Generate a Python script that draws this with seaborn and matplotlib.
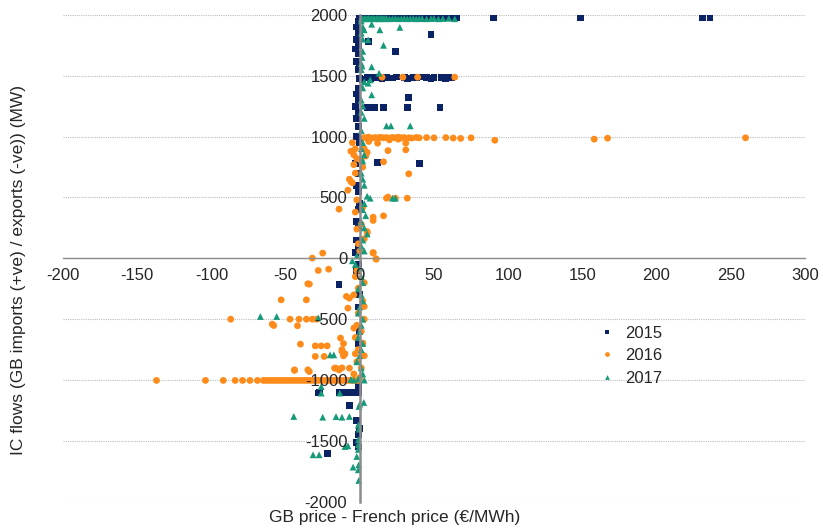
# import libraries
import pandas as pd
import seaborn as sns
import matplotlib.pyplot as plt

# data: (price gap EUR/MWh, IC flow MW)
years = ["2015", "2016", "2017"]
colours = ["#0B2365", "#FF8C1A", "#179A7A"]

pts_2015 = [
    # top row near 2000 MW
    (0, 1985), (2, 1975), (4, 1980), (6, 1970), (8, 1978), (10, 1982), (12, 1975), (14, 1980),
    (16, 1972), (18, 1985), (20, 1978), (22, 1975), (24, 1980), (26, 1983), (28, 1975), (30, 1978),
    (33, 1980), (35, 1975), (38, 1985), (40, 1978), (42, 1972), (45, 1980), (48, 1975), (50, 1982),
    (52, 1978), (55, 1975), (58, 1980), (60, 1978), (63, 1975), (65, 1980), (90, 1978), (149, 1978),
    (231, 1978), (236, 1978),
    # column at zero gap
    (-1, 1950), (-2, 1900), (-1, 1850), (-2, 1800), (-1, 1750), (-3, 1720), (-1, 1680), (-2, 1620),
    (0, 1580), (-1, 1550), (-1, 1400), (-2, 1350), (-1, 1300), (-3, 1250), (-1, 1200), (-2, 1150),
    (-1, 1080), (-2, 1000), (0, 950), (-1, 700), (-2, 600), (-1, 550), (0, 450), (-1, 400),
    (-2, 300), (-1, 250), (-2, 150), (-1, 100), (-3, 50), (-1, -50), (-2, -100), (0, -300),
    (-1, -400), (0, -600), (-1, -700), (-1, -1050),
    # scattered
    (6, 1781), (48, 1841), (24, 1700), (33, 1324), (10, 1239), (16, 1239), (32, 1239), (54, 1239),
    (5, 1239), (12, 790), (40, 776), (-3, 782), (-14, -218),
    # 1500 MW row
    (0, 1480), (2, 1470), (5, 1488), (7, 1480), (9, 1490), (12, 1485), (15, 1478), (18, 1488),
    (22, 1482), (25, 1490), (30, 1485), (32, 1478), (36, 1488), (38, 1482), (40, 1490), (45, 1485),
    (48, 1480), (50, 1488), (55, 1485), (58, 1478), (60, 1488), (62, 1482),
    # exports
    (-28, -1107), (-27, -1105), (-14, -1105), (-12, -1100), (-10, -1105), (-8, -1100), (-6, -1105),
    (-4, -1100), (-2, -1105), (-1, -1100), (-7, -1209), (-2, -1335), (0, -1400), (-1, -1450),
    (-2, -1513), (-1, -1550), (-22, -1606),
]

pts_2016 = [
    # 1000 MW row
    (3, 992), (5, 990), (6, 995), (8, 988), (10, 992), (12, 990), (14, 994), (16, 990), (18, 992),
    (20, 988), (22, 993), (24, 990), (26, 995), (28, 990), (30, 992), (33, 990), (35, 988), (38, 993),
    (40, 990), (45, 992), (50, 990), (58, 992), (63, 988), (68, 985), (75, 990), (91, 970),
    (158, 979), (167, 987), (260, 990),
    # scattered imports
    (12, 946), (19, 885), (31, 946), (31, 891), (16, 793), (33, 694), (20, 973), (26, 979),
    (18, 494), (24, 494), (32, 494), (19, 503), (-14, 404), (16, 349), (9, 311), (5, 207),
    (9, 48), (11, -4), (9, 338), (5, 220), (11, -7), (9, 43),
    (-5, 950), (-3, 900), (-6, 880), (-4, 850), (-2, 820), (3, 900), (5, 870), (4, 840), (6, 960),
    (-7, 650), (-5, 620), (-3, 700), (2, 750), (1, 800), (-4, 770), (-8, 560), (-6, 630), (-2, 480),
    (2, 420), (-3, 380), (1, 280), (-2, 240), (3, 160), (-1, 120), (0, 60),
    (15, 1488), (29, 1488), (39, 1488), (64, 1488),
    # negative gaps
    (-32, 2), (-25, 43), (-28, -100), (-21, -89), (-34, -212), (-35, -209), (-53, -341), (-36, -341),
    (-87, -500), (-59, -541), (-58, -552), (-47, -500), (-41, -500), (-36, -500), (-32, -500),
    (-29, -500), (-42, -554), (-40, -705), (-30, -719), (-26, -719), (-22, -719), (-30, -806),
    (-24, -806), (-44, -916), (-35, -916), (-16, -902), (-12, -900), (-12, -750), (-11, -700),
    (-44, -921), (-34, -930), (-17, -902), (-14, -916),
    (-1, -245), (-9, -313), (-7, -327), (-8, -409), (-4, -573), (-13, -655), (-12, -765),
    (-10, -784), (-11, -801), (-3, -784), (-7, -902), (3, -396), (2, -697), (-2, -100), (-3, -150),
    (3, -200), (-4, -300), (2, -350), (-1, -450), (3, -500), (-2, -550), (1, -600), (-3, -650),
    (2, -700), (-1, -750), (3, -800), (-2, -850), (1, -900), (-4, -950), (0, -980),
    # -1000 MW row
    (-137, -1003), (-104, -1003), (-92, -1003), (-84, -1003), (-79, -1003), (-74, -1003),
    (-69, -1003), (-65, -1003), (-63, -1003), (-61, -1003), (-59, -1003), (-57, -1003),
    (-55, -1003), (-53, -1003), (-51, -1003), (-49, -1003), (-47, -1003), (-45, -1003),
    (-43, -1003), (-41, -1003), (-39, -1003), (-37, -1003), (-35, -1003), (-33, -1003),
    (-31, -1003), (-29, -1003), (-27, -1003), (-25, -1003), (-23, -1003), (-21, -1003),
    (-19, -1003), (-17, -1003), (-15, -1003), (-13, -1003), (-11, -1003), (-9, -1003),
    (-7, -1003), (-5, -1003), (-3, -1003), (-1, -1003),
]

pts_2017 = [
    # top row near 2000 MW
    (1, 1970), (2, 1968), (3, 1972), (4, 1968), (5, 1970), (6, 1973), (7, 1968), (8, 1970),
    (9, 1972), (10, 1968), (11, 1970), (12, 1973), (13, 1968), (14, 1970), (15, 1972), (16, 1968),
    (17, 1970), (18, 1972), (20, 1968), (22, 1970), (24, 1972), (26, 1968), (28, 1970), (30, 1972),
    (32, 1968), (34, 1970), (36, 1972), (38, 1968), (40, 1970), (42, 1972), (45, 1968), (48, 1970),
    (50, 1972), (53, 1968), (56, 1970), (60, 1972), (64, 1968),
    # scattered near the top
    (8, 1923), (13.5, 1877), (27, 1897), (16, 1750), (8, 1573), (3, 1877), (2, 1800), (5.6, 1795),
    (1.5, 1650), (1.5, 1580), (13, 1521), (7, 1466), (5.6, 1439), (8, 1343), (18, 1088),
    (21, 1088), (34, 1088),
    # column at zero gap
    (1, 1950), (2, 1900), (1, 1850), (2, 1700), (1, 1600), (1, 1550), (3, 1450), (2, 1400),
    (1, 1300), (2, 1250), (1, 1200), (3, 1150), (1, 1050), (2, 950), (1, 900), (3, 850), (2, 800),
    (1, 700), (2, 650), (3, 600), (22, 494), (24, 494), (7, 494), (5, 510), (3, 450), (2, 400),
    (4, 350), (1, 300), (3, 250), (5, 200), (2, 150), (1, 100), (3, 60), (-2, 20), (-5, -20),
    (-3, -50), (0, -80),
    (1, -150), (2, -200), (-1, -250), (1, -300), (2, -350), (0, -400), (-1, -450), (2, -500),
    (1, -550), (0, -600), (-1, -650), (2, -700), (1, -750), (0, -800), (-2, -850), (1, -900),
    (2, -950), (-1, -990), (3, -1000), (-4, -1000), (-6, -995),
    # exports
    (-67, -478), (-56, -478), (-28, -489), (-20, -793), (-17.5, -793), (-26, -1053), (-26, -1107),
    (-13.5, -1107), (-44.5, -1299), (-25, -1305), (-16, -1300), (-12, -1305), (-7, -1299),
    (-0.5, -1217), (2.7, -1184), (0, -1198), (-1, -1368), (-0.5, -1403), (-10, -1546), (-8, -1540),
    (-31.5, -1614), (-27.4, -1614), (-1, -1490), (-1, -1530), (-1, -1570), (-2, -1628),
    (-0.7, -1696), (-4.5, -1715), (-1, -1737), (-0.7, -1825),
]

x_ticks = [-200, -150, -100, -50, 0, 50, 100, 150, 200, 250, 300]
y_ticks = [-2000, -1500, -1000, -500, 0, 500, 1000, 1500, 2000]

rows = []
for yr, pts in zip(years, [pts_2015, pts_2016, pts_2017]):
    for gap, flow in pts:
        rows.append({"year": yr, "gap": gap, "flow": flow})
df = pd.DataFrame(rows)

sns.set_style("white")
plt.rcParams['font.family'] = ['Liberation Sans', 'DejaVu Sans']
plt.rcParams['axes.unicode_minus'] = False

fig, ax = plt.subplots(figsize=(8.23, 5.31), dpi=100)
fig.subplots_adjust(left=0.0766, right=0.978, top=0.972, bottom=0.055)

# dotted gridlines under the points, tick labels stay on top
for yv in y_ticks:
    ax.axhline(yv, linestyle=(0, (1, 1)), color="#BDBDBD", linewidth=0.8, zorder=0.5)

sns.scatterplot(data=df, x="gap", y="flow", hue="year", style="year",
                hue_order=years, style_order=years,
                markers={"2015": "s", "2016": "o", "2017": "^"},
                palette=dict(zip(years, colours)), s=24, linewidth=0, ax=ax, zorder=2.2)
ax.set_axisbelow(False)

ax.set_xlim(-200, 300)
ax.set_ylim(-2000, 2000)
ax.set_xticks(x_ticks)
ax.set_yticks(y_ticks)

for side in ["top", "right"]:
    ax.spines[side].set_visible(False)
ax.spines["left"].set_position(("data", 0))
ax.spines["bottom"].set_position(("data", 0))
ax.spines["left"].set_color("#8C8C8C")
ax.spines["left"].set_linewidth(1.8)
ax.spines["bottom"].set_color("#8C8C8C")
ax.spines["bottom"].set_linewidth(1.0)

ax.tick_params(axis="x", length=4, color="#BDBDBD", pad=3, labelsize=12)
ax.tick_params(axis="y", length=0, pad=9, labelsize=12)

ax.set_xlabel("GB price - French price (€/MWh)", fontsize=12.5)
ax.set_ylabel("IC flows (GB imports (+ve) / exports (-ve)) (MW)", fontsize=12.5)
ax.xaxis.set_label_coords(0.447, -0.016)
ax.yaxis.set_label_coords(-0.05, 0.476)

handles, labels = ax.get_legend_handles_labels()
keep = [(h, l) for h, l in zip(handles, labels) if l in years]
ax.legend([h for h, l in keep], [l for h, l in keep], loc="center left",
          bbox_to_anchor=(0.69, 0.30), frameon=False, fontsize=12,
          handletextpad=0.1, labelspacing=0.45, markerscale=0.7)

plt.savefig("out.png", dpi=100)
